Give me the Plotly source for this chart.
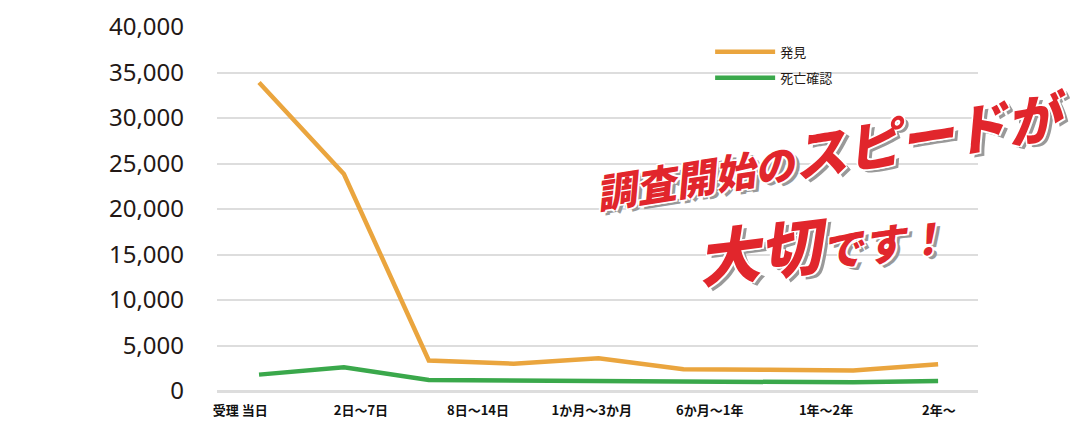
import plotly.graph_objects as go

# 9 measurement points along the line, 7 period labels under the axis
point_idx = [0, 1, 2, 3, 4, 5, 6, 7, 8]
found = [33900, 23850, 3350, 3000, 3600, 2400, 2330, 2250, 2950]
died = [1800, 2600, 1200, 1150, 1200, 1050, 1000, 950, 1100]

period_labels = ['受理 当日', '2日〜7日', '8日〜14日', '1か月〜3か月',
                 '6か月〜1年', '1年〜2年', '2年〜']
label_pos = [-0.22, 1.2, 2.58, 3.92, 5.31, 6.68, 8.01]

y_ticks = [0, 5000, 10000, 15000, 20000, 25000, 30000, 35000, 40000]

ORANGE = '#EAA53E'
GREEN = '#3AA84B'
RED = '#E1262C'

fig = go.Figure()
fig.add_trace(go.Scatter(
    x=point_idx, y=found, name='発見', mode='lines', legendgroup='a',
    line=dict(color=ORANGE, width=4.5)))
fig.add_trace(go.Scatter(
    x=point_idx, y=died, name='死亡確認', mode='lines', legendgroup='b',
    line=dict(color=GREEN, width=4.5)))

# page body has an 8px margin, so the plot box is shifted up/left by 8
fig.update_layout(
    width=1088, height=434,
    margin=dict(l=209, r=118, t=19, b=51),
    paper_bgcolor='white', plot_bgcolor='white',
    font=dict(family='Noto Sans CJK JP', color='#231815'),
    legend=dict(x=0.648, y=0.973, xanchor='left', yanchor='top',
                bgcolor='rgba(0,0,0,0)', itemwidth=60, tracegroupgap=6,
                font=dict(size=13, family='Noto Sans CJK JP')),
    showlegend=True,
)
fig.update_xaxes(
    range=[-0.495, 8.47], showgrid=False, zeroline=False, showline=False,
    tickmode='array', tickvals=label_pos, ticktext=period_labels,
    tickfont=dict(size=13, family='Noto Sans CJK JP', color='#111111',
                  weight='bold'),
    ticks='', ticklabelstandoff=10, automargin=False,
)
fig.update_yaxes(
    range=[0, 40000], tickvals=y_ticks, tickformat=',',
    showgrid=True, gridcolor='#dddddd', gridwidth=2,
    zeroline=True, zerolinecolor='#dddddd', zerolinewidth=2.5,
    tickfont=dict(size=24, family='Noto Sans', color='#231815'),
    ticklabelstandoff=32, showline=False, automargin=False,
)

# slogan: red text with a thin white edge and a gray drop shadow
slogan_shadow = ('1.5px 1.5px 0 #fff, -1.5px -1.5px 0 #fff, '
                 '1.5px -1.5px 0 #fff, -1.5px 1.5px 0 #fff, '
                 '4px 4px 0 #999')
line1 = '調査開始の<span style="font-size:54px">スピードが</span>'
line2 = '大切<span style="font-size:42px">です！</span>'
fig.add_annotation(
    x=0.808, y=0.665, xref='paper', yref='paper', text=line1,
    xanchor='center', yanchor='middle',
    showarrow=False, textangle=-9,
    font=dict(size=40, color=RED, family='Noto Sans CJK JP',
              weight=900, style='italic', shadow=slogan_shadow))
fig.add_annotation(
    x=0.794, y=0.412, xref='paper', yref='paper', text=line2,
    xanchor='center', yanchor='middle',
    showarrow=False, textangle=-7,
    font=dict(size=62, color=RED, family='Noto Sans CJK JP',
              weight=900, style='italic', shadow=slogan_shadow))

fig.write_html('out.html')
